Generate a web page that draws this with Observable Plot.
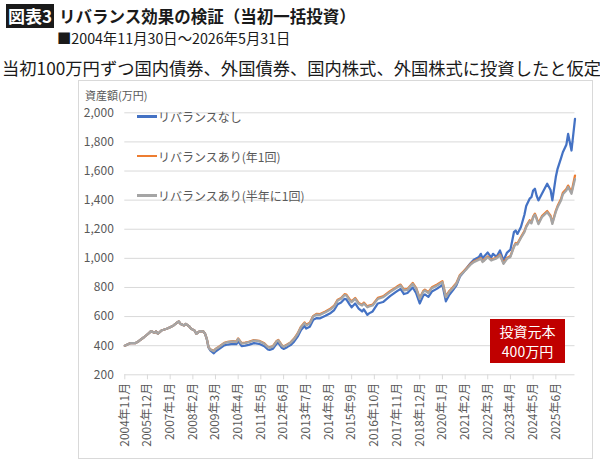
<!DOCTYPE html>
<html><head><meta charset="utf-8">
<script src="https://cdn.jsdelivr.net/npm/d3@7"></script>
<script src="https://cdn.jsdelivr.net/npm/@observablehq/plot@0.6"></script>
<style>
body{margin:0;background:#fff;font-family:"Noto Sans CJK JP","Noto Sans",sans-serif;}
#wrap{position:relative;width:600px;height:462px;overflow:hidden;background:#fff;}
#wrap > div{position:absolute;white-space:nowrap;}
#tag{left:6px;top:4px;width:48px;height:24px;background:#1a1a1a;color:#fff;font-weight:700;font-size:17px;line-height:24px;text-align:center;}
#title{left:59px;top:3px;font-size:16.5px;font-weight:700;line-height:26px;color:#1a1a1a;}
#sub{left:57px;top:28px;font-size:14.3px;line-height:20px;color:#1a1a1a;}
#lead{left:2px;top:55px;font-size:17.3px;line-height:25px;color:#1a1a1a;}
#chart{left:0;top:0;}
#panel{left:78px;top:80px;width:513px;height:377px;border:1px solid #d9d9d9;pointer-events:none;}
#ylab{left:85px;top:87px;font-size:11px;line-height:16px;color:#595959;}
.lg{left:137px;font-size:12px;line-height:17px;color:#595959;display:flex;align-items:center;}
.lg span.sw{display:inline-block;width:20px;height:2.5px;margin-right:1px;}
#note{left:490px;top:319px;width:75px;height:44px;background:#c00000;color:#fff;font-size:14px;line-height:20.5px;text-align:center;padding-top:1.5px;box-sizing:border-box;}
</style></head><body>
<div id="wrap">
  <div id="tag">図表3</div>
  <div id="title">リバランス効果の検証（当初一括投資）</div>
  <div id="sub">■2004年11月30日～2026年5月31日</div>
  <div id="lead">当初100万円ずつ国内債券、外国債券、国内株式、外国株式に投資したと仮定</div>
  <div id="chart"></div>
  <div id="panel"></div>
  <div id="ylab">資産額(万円)</div>
  <div class="lg" style="top:108px"><span class="sw" style="background:#4472c4"></span>リバランスなし</div>
  <div class="lg" style="top:147.5px"><span class="sw" style="background:#ed7d31"></span>リバランスあり(年1回)</div>
  <div class="lg" style="top:187px"><span class="sw" style="background:#a5a5a5"></span>リバランスあり(半年に1回)</div>
  <div id="note">投資元本<br>400万円</div>
</div>
<script>
// ---- data (万円) ----
const months = ["2004-11","2005-02","2005-05","2005-07","2005-10","2006-01","2006-02","2006-04","2006-05","2006-06",
"2006-08","2006-11","2007-01","2007-03","2007-05","2007-06","2007-07","2007-09","2007-10","2007-12",
"2008-01","2008-03","2008-04","2008-06","2008-08","2008-09","2008-10","2008-11","2008-12","2009-02",
"2009-03","2009-05","2009-08","2009-10","2010-01","2010-03","2010-04","2010-06","2010-08","2010-10",
"2011-01","2011-04","2011-07","2011-09","2011-10","2011-12","2012-02","2012-03","2012-05","2012-06",
"2012-08","2012-10","2012-12","2013-02","2013-04","2013-06","2013-07","2013-09","2013-11","2014-01",
"2014-03","2014-06","2014-09","2014-11","2015-01","2015-03","2015-05","2015-06","2015-08","2015-09",
"2015-11","2016-01","2016-03","2016-04","2016-06","2016-07","2016-09","2016-12","2017-03","2017-07",
"2017-11","2018-01","2018-03","2018-05","2018-08","2018-10","2018-12","2019-02","2019-03","2019-05",
"2019-07","2019-10","2020-01","2020-03","2020-05","2020-07","2020-09","2020-11","2021-01","2021-03",
"2021-05","2021-07","2021-10","2021-11","2021-12","2022-01","2022-03","2022-05","2022-06","2022-08",
"2022-10","2022-12","2023-02","2023-04","2023-06","2023-07","2023-08","2023-10","2023-12","2024-01",
"2024-03","2024-04","2024-05","2024-06","2024-07","2024-08","2024-10","2025-01","2025-03","2025-04",
"2025-06","2025-07","2025-09","2025-10","2025-12","2026-01","2026-03","2026-05"];

const noRebal = [400,417,417,431,458,488,500,489,498,482,
504,516,527,539,559,566,550,539,550,532,
516,504,482,500,498,482,445,386,368,348,
360,377,402,408,413,410,430,397,401,406,
418,413,396,374,371,380,414,420,386,378,
390,404,428,462,508,535,518,530,578,590,
588,605,625,645,685,697,722,718,680,664,
690,655,635,650,612,622,635,690,700,740,
775,790,755,762,800,760,690,745,752,735,
772,792,818,705,750,780,815,875,905,935,
965,990,1010,1031,1000,1015,1040,1005,1031,1010,
1054,985,1040,1060,1180,1191,1168,1215,1300,1360,
1410,1420,1466,1478,1430,1398,1444,1513,1470,1398,
1560,1615,1690,1729,1780,1855,1741,1959];

const annual = [400,417,417,431,458,488,500,489,498,482,
504,516,527,539,559,566,550,539,550,532,
516,504,482,500,498,482,447,390,375,365,
378,393,420,427,432,428,450,418,421,427,
439,434,416,393,389,398,433,440,404,395,
408,423,449,484,531,560,544,557,605,619,
617,635,656,676,716,728,754,751,716,705,
728,694,682,696,670,676,682,728,739,774,
806,820,785,790,831,796,728,776,785,767,
801,820,843,739,776,801,831,886,910,933,
960,979,995,1002,980,990,1013,990,995,1005,
1025,968,1003,1016,1083,1106,1101,1146,1187,1222,
1262,1247,1287,1307,1277,1242,1290,1325,1293,1245,
1328,1359,1410,1450,1476,1500,1454,1569];

const semiannual = [400,417,417,431,458,488,500,489,498,482,
504,516,527,539,559,566,550,539,550,532,
516,504,482,500,498,482,447,390,374,362,
375,390,417,424,429,425,447,415,418,424,
436,431,413,390,386,395,430,436,401,392,
405,420,445,480,527,555,539,552,600,614,
612,630,650,670,710,722,748,745,710,699,
722,688,676,690,664,670,676,722,733,768,
800,814,779,784,825,790,722,770,779,761,
795,814,837,733,770,795,825,880,905,928,
955,974,990,997,975,985,1008,985,990,1000,
1020,962,997,1010,1077,1100,1095,1140,1180,1215,
1255,1240,1280,1300,1270,1235,1283,1317,1285,1237,
1320,1351,1400,1440,1466,1490,1444,1545];

const seriesNames = ["リバランスなし","リバランスあり(年1回)","リバランスあり(半年に1回)"];
const seriesColors = ["#4472c4","#ed7d31","#a5a5a5"];
const yTicks = [200,400,600,800,1000,1200,1400,1600,1800,2000];
const firstMonth = "2004-11", lastMonth = "2026-05", tickStepMonths = 13, tickCount = 20;

const parse = d3.utcParse("%Y-%m");
const seriesValues = [noRebal, annual, semiannual];
const rows = [];
seriesValues.forEach((vals, s) => months.forEach((m, i) => rows.push({date: parse(m), value: vals[i], series: seriesNames[s]})));
const start = parse(firstMonth), end = parse(lastMonth);
const xTicks = d3.range(tickCount).map(k => d3.utcMonth.offset(start, k * tickStepMonths));
const font = '"Noto Sans CJK JP","Noto Sans",sans-serif';

const chart = Plot.plot({
  width: 600, height: 462,
  marginLeft: 124.3, marginRight: 25.5, marginTop: 112.3, marginBottom: 87.7,
  style: {background: "transparent", fontFamily: font, fontSize: "12px", color: "#595959"},
  x: {type: "utc", domain: [start, end]},
  y: {domain: [200, 2000]},
  color: {domain: seriesNames, range: seriesColors},
  marks: [
    Plot.ruleY(yTicks, {stroke: "#d9d9d9", strokeWidth: 1}),
    Plot.axisY({ticks: yTicks, tickFormat: d3.format(","), tickSize: 0, tickPadding: 11, label: null, fill: "#595959"}),
    Plot.axisX({ticks: xTicks, tickFormat: d => `${d.getUTCFullYear()}年${d.getUTCMonth() + 1}月`, tickRotate: -90, tickSize: 5, tickPadding: 3, label: null, stroke: "#d9d9d9", fill: "#595959"}),
    Plot.lineY(rows, {x: "date", y: "value", z: "series", stroke: "series", strokeWidth: 2.25, strokeLinejoin: "round", strokeLinecap: "round"})
  ]
});
document.getElementById("chart").appendChild(chart);
</script>
</body></html>
